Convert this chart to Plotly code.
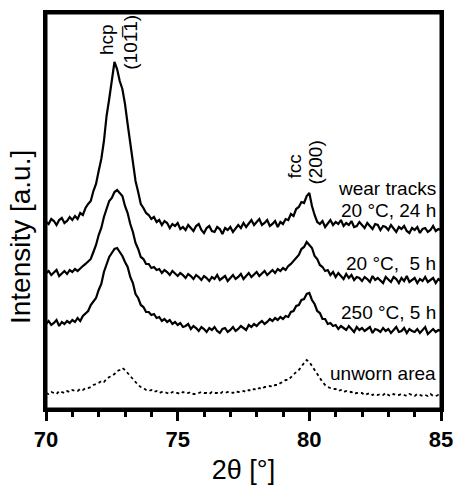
import plotly.graph_objects as go

two_theta = [round(70 + 0.1 * i, 1) for i in range(151)]

wear_20C_24h = [
    187, 185, 190, 188, 184, 189, 191, 186, 188, 192,
    189, 193, 190, 196, 194, 201, 205, 208, 218, 225,
    238, 250, 268, 293, 310, 330, 347, 340, 328, 320,
    305, 285, 265, 246, 228, 217, 205, 201, 196, 194,
    190, 192, 187, 189, 184, 188, 186, 181, 185, 183,
    186, 180, 182, 179, 184, 181, 178, 183, 185, 179,
    176, 181, 183, 178, 177, 182, 180, 175, 181, 179,
    182, 177, 180, 184, 181, 186, 182, 185, 189, 184,
    187, 190, 184, 186, 189, 183, 185, 188, 182, 187,
    185, 190, 189, 195, 193, 200, 202, 207, 206, 213,
    216, 203, 194, 187, 185, 188, 182, 186, 189, 184,
    187, 185, 189, 183, 186, 184, 188, 182, 183, 187,
    184, 181, 186, 183, 180, 185, 184, 179, 183, 182,
    179, 184, 181, 177, 182, 180, 183, 178, 176, 181,
    179, 182, 176, 180, 181, 177, 179, 183, 178, 180,
    179,
]

wear_20C_5h = [
    136, 138, 134, 137, 139, 133, 136, 138, 135, 139,
    137, 140, 138, 141, 143, 145, 148, 150, 157, 164,
    174, 181, 192, 200, 208, 211, 217, 219, 216, 213,
    203, 196, 185, 177, 166, 160, 152, 150, 145, 145,
    141, 142, 139, 140, 136, 139, 137, 134, 138, 135,
    133, 136, 134, 131, 135, 133, 130, 134, 132, 129,
    133, 131, 128, 132, 130, 134, 129, 131, 133, 128,
    131, 134, 130, 132, 135, 130, 133, 136, 132, 135,
    137, 133, 136, 138, 134, 137, 139, 136, 140, 138,
    141, 139, 143, 145, 148, 152, 154, 160, 162, 167,
    164, 161, 153, 150, 144, 142, 138, 139, 134, 137,
    132, 136, 133, 130, 135, 131, 134, 129, 132, 131,
    128, 132, 130, 127, 133, 129, 131, 128, 126, 132,
    129, 127, 132, 130, 126, 131, 128, 133, 127, 129,
    131, 126, 130, 128, 132, 127, 129, 131, 126, 130,
    128,
]

wear_250C_5h = [
    85, 88, 84, 86, 89, 83, 87, 85, 88, 86,
    89, 87, 91, 88, 93, 96, 98, 104, 107, 111,
    119, 125, 137, 145, 152, 156, 160, 161, 157, 153,
    147, 142, 132, 126, 115, 111, 104, 102, 97, 97,
    94, 95, 91, 92, 88, 90, 87, 89, 85, 87,
    84, 86, 82, 83, 85, 80, 83, 81, 78, 82,
    80, 77, 81, 79, 82, 78, 76, 80, 81, 77,
    79, 82, 78, 80, 83, 81, 79, 84, 82, 85,
    83, 86, 88, 85, 87, 90, 88, 91, 89, 92,
    90, 93, 92, 97, 98, 103, 104, 109, 110, 115,
    116, 109, 105, 98, 96, 90, 90, 85, 86, 83,
    84, 80, 83, 81, 79, 83, 80, 77, 82, 79,
    81, 78, 80, 82, 76, 80, 79, 77, 81, 78,
    80, 76, 79, 82, 77, 78, 81, 76, 80, 78,
    77, 80, 76, 79, 82, 75, 78, 80, 77, 79,
    78,
]

unworn_area = [
    16, 15, 17, 16, 15, 18, 17, 16, 18, 17,
    19, 18, 18, 20, 19, 21, 21, 22, 24, 25,
    26, 28, 27, 30, 32, 33, 35, 38, 39, 41,
    39, 36, 33, 29, 27, 24, 22, 21, 19, 18,
    19, 17, 18, 16, 17, 17, 16, 15, 17, 16,
    16, 15, 17, 16, 16, 17, 15, 15, 16, 17,
    16, 16, 15, 17, 16, 16, 15, 17, 16, 17,
    17, 16, 18, 17, 17, 18, 17, 19, 18, 20,
    19, 21, 20, 22, 22, 23, 22, 24, 24, 26,
    27, 29, 29, 32, 34, 37, 39, 43, 46, 49,
    47, 43, 39, 34, 30, 27, 24, 22, 21, 20,
    20, 18, 19, 17, 18, 17, 17, 15, 16, 16,
    16, 14, 15, 16, 14, 15, 14, 15, 14, 16,
    14, 13, 15, 14, 14, 15, 14, 13, 15, 14,
    13, 15, 14, 13, 14, 13, 15, 13, 13, 14,
    13,
]

x_ticks = [70, 75, 80, 85]
x_tick_labels = ["70", "75", "80", "85"]

FONT = "Liberation Sans, Arial, sans-serif"

fig = go.Figure()
for vals in [wear_20C_24h, wear_20C_5h, wear_250C_5h]:
    fig.add_trace(go.Scatter(x=two_theta, y=vals, mode="lines",
                             line=dict(color="black", width=2.2),
                             showlegend=False, hoverinfo="skip"))
fig.add_trace(go.Scatter(x=two_theta, y=unworn_area, mode="lines",
                         line=dict(color="black", width=1.8, dash="dot"),
                         showlegend=False, hoverinfo="skip"))

ann_font = dict(family=FONT, size=19, color="black")
right_labels = [
    ("wear tracks", 221),
    ("20 °C, 24 h", 199),
    ("20 °C,&nbsp; 5 h", 146),
    ("250 °C, 5 h", 97),
    ("unworn area", 36),
]
for txt, yy in right_labels:
    fig.add_annotation(x=84.88, y=yy, xref="x", yref="y", text=txt,
                       showarrow=False, xanchor="right", yanchor="middle", font=ann_font)

peak_labels = [
    ("hcp", 72.28, 369),
    ("(101\u03051)", 73.18, 367),
    ("fcc", 79.4, 242),
    ("(200)", 80.2, 246),
]
for txt, xx, yy in peak_labels:
    fig.add_annotation(x=xx, y=yy, xref="x", yref="y", text=txt, textangle=-90,
                       showarrow=False, xanchor="center", yanchor="middle", font=ann_font)

# y-axis title placed as a rotated label (sits slightly below the axis centre)
fig.add_annotation(x=-0.066, y=0.434, xref="paper", yref="paper", text="Intensity [a.u.]",
                   textangle=-90, showarrow=False, xanchor="center", yanchor="middle",
                   font=dict(family=FONT, size=28, color="black"))

# heavy frame around the plotting area
fig.add_shape(type="rect", xref="paper", yref="paper", x0=0, y0=0, x1=1, y1=1,
              line=dict(color="black", width=3), layer="above")

fig.update_layout(
    width=455, height=486,
    margin=dict(l=46, r=14, t=13, b=77),
    paper_bgcolor="white", plot_bgcolor="white",
    font=dict(family=FONT, color="black"),
    xaxis=dict(
        range=[70, 85], showgrid=False, zeroline=False, automargin=False,
        showline=True, linecolor="black", linewidth=3, mirror=True,
        tickmode="array", tickvals=x_ticks, ticktext=x_tick_labels,
        ticks="outside", ticklen=9, tickwidth=2.5, tickcolor="black",
        tickfont=dict(family=FONT, size=22, color="black", weight="bold"),
        minor=dict(dtick=1, ticks="outside", ticklen=5, tickwidth=2.5, tickcolor="black"),
        title=dict(text="2θ [°]", font=dict(family=FONT, size=27, color="black"), standoff=9),
    ),
    yaxis=dict(
        range=[0, 396], showgrid=False, zeroline=False, automargin=False,
        showline=True, linecolor="black", linewidth=3, mirror=True,
        showticklabels=False, ticks="",
    ),
)

fig.write_html("out.html", config={"displayModeBar": False},
               post_script="document.body.style.margin='0';document.body.style.overflow='hidden';")
